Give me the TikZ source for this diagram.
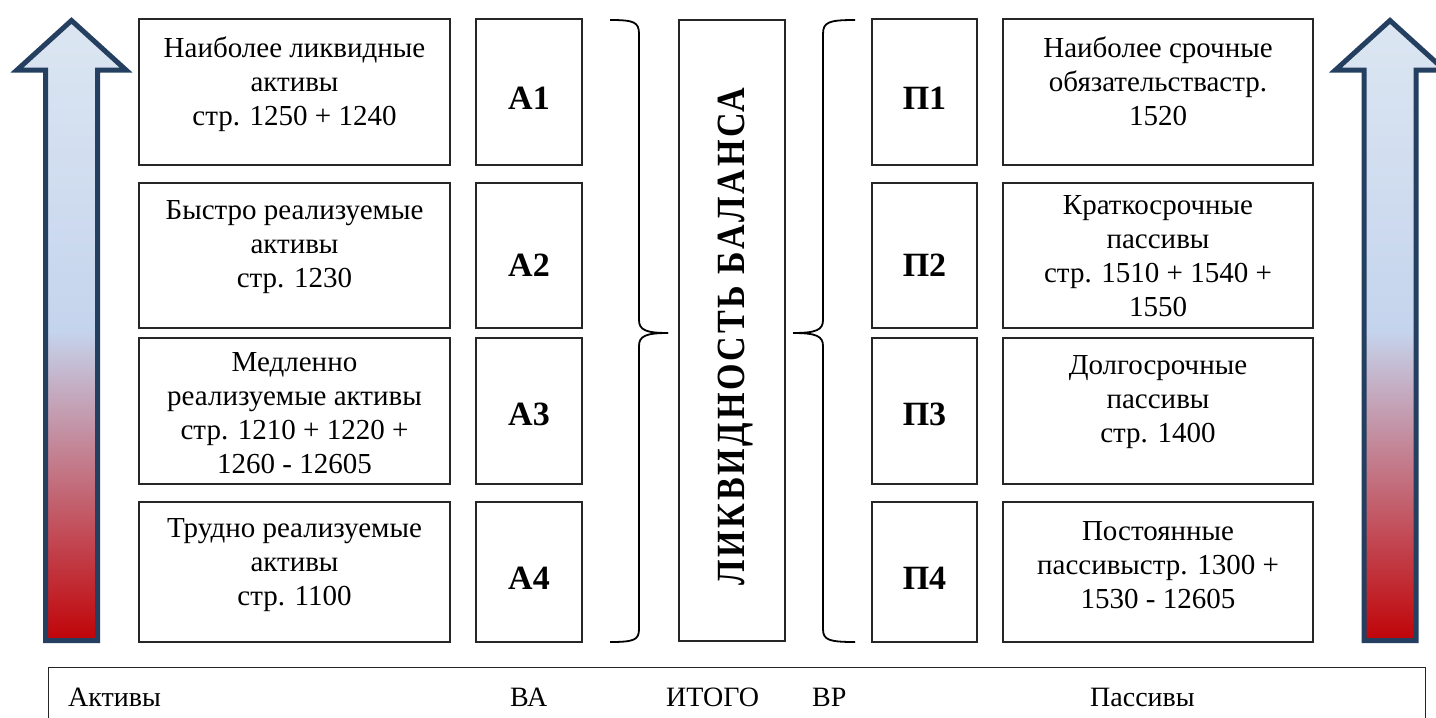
\documentclass[tikz,border=0pt]{standalone}
\usepackage{fontspec}
\setmainfont{Liberation Serif}
\definecolor{arrowline}{RGB}{36,63,96}
\definecolor{shtop}{RGB}{220,230,242}
\definecolor{shmid}{RGB}{197,212,237}
\definecolor{shbot}{RGB}{192,4,8}
\begin{document}
\begin{tikzpicture}[x=1pt,y=-1pt,
  box/.style={draw=black!85, line width=1.3pt, inner sep=0pt},
  txt/.style={align=center, font=\fontsize{29}{34}\selectfont, inner sep=0pt},
  lbl/.style={font=\fontsize{34}{34}\selectfont\bfseries, inner sep=0pt},
  bigarrow/.style={draw=arrowline, line width=5pt, line join=miter, top color=shtop, bottom color=shbot, middle color=shmid},
  brace/.style={draw=black, line width=1.8pt},
  bartxt/.style={font=\fontsize{28}{28}\selectfont, anchor=base west, inner sep=0pt}]
\useasboundingbox (0,0) rectangle (1436,718);
\fill[white] (0,0) rectangle (1436,718);
% arrows
\path[bigarrow] (71.5,20.5) -- (17,70) -- (45.5,70) -- (45.5,640.5) -- (97.5,640.5) -- (97.5,70) -- (126,70) -- cycle;
\path[bigarrow] (1390,20.5) -- (1335.5,70) -- (1364,70) -- (1364,640.5) -- (1416,640.5) -- (1416,70) -- (1444.5,70) -- cycle;
% left text boxes
\node[box, minimum width=311, minimum height=146] (L1) at (294.5,92) {};
\node[box, minimum width=311, minimum height=145] (L2) at (294.5,255.5) {};
\node[box, minimum width=311, minimum height=146] (L3) at (294.5,411) {};
\node[box, minimum width=311, minimum height=140] (L4) at (294.5,572) {};
\node[txt] (L1t) at (294.5,84) {Наиболее ликвидные\\активы\\стр. 1250 + 1240};
\node[txt] (L2t) at (294.5,247) {Быстро реализуемые\\активы\\стр. 1230};
\node[txt] (L3t) at (294.5,413) {Медленно\\реализуемые активы\\стр. 1210 + 1220 +\\1260 - 12605};
\node[txt] (L4t) at (294.5,565) {Трудно реализуемые\\активы\\стр. 1100};
% A boxes
\node[box, minimum width=106, minimum height=146] (A1) at (529,92) {};
\node[box, minimum width=106, minimum height=145] (A2) at (529,255.5) {};
\node[box, minimum width=106, minimum height=146] (A3) at (529,411) {};
\node[box, minimum width=106, minimum height=140] (A4) at (529,572) {};
\node[lbl] (A1t) at (529,98) {А1};
\node[lbl] (A2t) at (529,265) {А2};
\node[lbl] (A3t) at (529,414) {А3};
\node[lbl] (A4t) at (529,578) {А4};
% center box
\node[box, minimum width=106, minimum height=621] (C) at (732,330.5) {};
\node[rotate=90, inner sep=0pt, text height=26.5pt, text depth=0pt, font=\fontsize{40}{40}\selectfont\bfseries\addfontfeature{LetterSpace=8}] (Ct) at (731.5,336.5) {\scalebox{0.852}[1]{ЛИКВИДНОСТЬ БАЛАНСА}};
% braces
\coordinate (lbT) at (610,20);
\coordinate (lbM) at (668,333);
\coordinate (lbB) at (610,642);
\draw[brace] (lbT) .. controls (634,20) and (639,22) .. (639,34) -- (639,320) .. controls (639,330) and (646,333) .. (lbM);
\draw[brace] (lbM) .. controls (646,333) and (639,336) .. (639,346) -- (639,629) .. controls (639,640) and (634,642) .. (lbB);
\coordinate (rbT) at (855,20);
\coordinate (rbM) at (793,333);
\coordinate (rbB) at (855,642);
\draw[brace] (rbT) .. controls (829,20) and (823,22) .. (823,34) -- (823,320) .. controls (823,330) and (816,333) .. (rbM);
\draw[brace] (rbM) .. controls (816,333) and (823,336) .. (823,346) -- (823,629) .. controls (823,640) and (829,642) .. (rbB);
% P boxes
\node[box, minimum width=105, minimum height=146] (P1) at (924.5,92) {};
\node[box, minimum width=105, minimum height=145] (P2) at (924.5,255.5) {};
\node[box, minimum width=105, minimum height=146] (P3) at (924.5,411) {};
\node[box, minimum width=105, minimum height=140] (P4) at (924.5,572) {};
\node[lbl] (P1t) at (924.5,98) {П1};
\node[lbl] (P2t) at (924.5,265) {П2};
\node[lbl] (P3t) at (924.5,414) {П3};
\node[lbl] (P4t) at (924.5,578) {П4};
% right text boxes
\node[box, minimum width=310, minimum height=146] (R1) at (1158,92) {};
\node[box, minimum width=310, minimum height=145] (R2) at (1158,255.5) {};
\node[box, minimum width=310, minimum height=146] (R3) at (1158,411) {};
\node[box, minimum width=310, minimum height=140] (R4) at (1158,572) {};
\node[txt] (R1t) at (1158,81) {Наиболее срочные\\обязательствастр.\\1520};
\node[txt] (R2t) at (1158,256) {Краткосрочные\\пассивы\\стр. 1510 + 1540 +\\1550};
\node[txt] (R3t) at (1158,402) {Долгосрочные\\пассивы\\стр. 1400};
\node[txt] (R4t) at (1158,565) {Постоянные\\пассивыстр. 1300 +\\1530 - 12605};
% bottom bar
\node[box, anchor=north west, minimum width=1377, minimum height=62] (bar) at (48,667) {};
\node[bartxt] (b1) at (68,706) {Активы};
\node[bartxt] (b2) at (510,706) {ВА};
\node[bartxt] (b3) at (666,706) {ИТОГО};
\node[bartxt] (b4) at (812,706) {ВР};
\node[bartxt] (b5) at (1090,706) {Пассивы};
\end{tikzpicture}
\end{document}
